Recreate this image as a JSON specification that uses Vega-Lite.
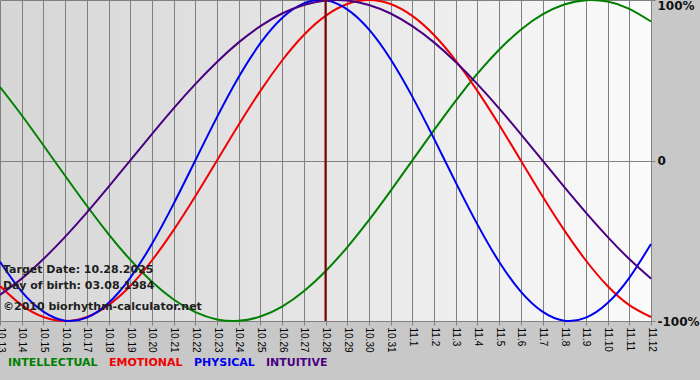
{
  "$schema": "https://vega.github.io/schema/vega-lite/v6.json",
  "width": 651,
  "height": 321,
  "autosize": {"type": "none"},
  "padding": {"left": 0, "top": 0, "right": 49, "bottom": 59},
  "background": "#c8c8c8",
  "view": {"stroke": null, "fill": {"gradient": "linear", "x1": 0, "x2": 1, "y1": 0, "y2": 0, "stops": [{"offset": 0, "color": "#d6d6d6"}, {"offset": 0.5, "color": "#e6e6e6"}, {"offset": 1, "color": "#fbfbfb"}]}},
  "config": {
    "axisX": {"grid": true, "gridColor": "#808080", "gridOpacity": 1, "domainColor": "#808080", "tickColor": "#808080", "tickSize": 4, "labelAngle": 90, "labelFont": "Liberation Sans", "labelFontSize": 10, "labelColor": "#000000", "labelPadding": 2, "labelOverlap": false, "labelBound": false, "labelFlush": false},
    "axisY": {"grid": true, "gridColor": "#808080", "gridOpacity": 1, "domain": false, "tickColor": "#808080", "tickSize": 4, "labelFont": "DejaVu Sans", "labelFontSize": 12, "labelFontWeight": "bold", "labelColor": "#111111", "labelPadding": 2, "labelOverlap": false, "labelFlush": false}
  },
  "layer": [
    {
      "data": {"values": [
        {"d": "10.13", "INTELLECTUAL": 45.8, "EMOTIONAL": -78.2, "PHYSICAL": -63.1, "INTUITIVE": -83.7},
        {"d": "10.14", "INTELLECTUAL": 28.2, "EMOTIONAL": -90.1, "PHYSICAL": -81.7, "INTUITIVE": -73.6},
        {"d": "10.15", "INTELLECTUAL": 9.5, "EMOTIONAL": -97.5, "PHYSICAL": -94.2, "INTUITIVE": -61.4},
        {"d": "10.16", "INTELLECTUAL": -9.5, "EMOTIONAL": -100, "PHYSICAL": -99.8, "INTUITIVE": -47.6},
        {"d": "10.17", "INTELLECTUAL": -28.2, "EMOTIONAL": -97.5, "PHYSICAL": -97.9, "INTUITIVE": -32.5},
        {"d": "10.18", "INTELLECTUAL": -45.8, "EMOTIONAL": -90.1, "PHYSICAL": -88.8, "INTUITIVE": -16.5},
        {"d": "10.19", "INTELLECTUAL": -61.8, "EMOTIONAL": -78.2, "PHYSICAL": -73.1, "INTUITIVE": 0},
        {"d": "10.20", "INTELLECTUAL": -75.6, "EMOTIONAL": -62.3, "PHYSICAL": -52.0, "INTUITIVE": 16.5},
        {"d": "10.21", "INTELLECTUAL": -86.6, "EMOTIONAL": -43.4, "PHYSICAL": -27.0, "INTUITIVE": 32.5},
        {"d": "10.22", "INTELLECTUAL": -94.5, "EMOTIONAL": -22.3, "PHYSICAL": 0, "INTUITIVE": 47.6},
        {"d": "10.23", "INTELLECTUAL": -99.0, "EMOTIONAL": 0, "PHYSICAL": 27.0, "INTUITIVE": 61.4},
        {"d": "10.24", "INTELLECTUAL": -99.9, "EMOTIONAL": 22.3, "PHYSICAL": 52.0, "INTUITIVE": 73.6},
        {"d": "10.25", "INTELLECTUAL": -97.2, "EMOTIONAL": 43.4, "PHYSICAL": 73.1, "INTUITIVE": 83.7},
        {"d": "10.26", "INTELLECTUAL": -91.0, "EMOTIONAL": 62.3, "PHYSICAL": 88.8, "INTUITIVE": 91.6},
        {"d": "10.27", "INTELLECTUAL": -81.5, "EMOTIONAL": 78.2, "PHYSICAL": 97.9, "INTUITIVE": 96.9},
        {"d": "10.28", "INTELLECTUAL": -69.0, "EMOTIONAL": 90.1, "PHYSICAL": 99.8, "INTUITIVE": 99.7},
        {"d": "10.29", "INTELLECTUAL": -54.1, "EMOTIONAL": 97.5, "PHYSICAL": 94.2, "INTUITIVE": 99.7},
        {"d": "10.30", "INTELLECTUAL": -37.2, "EMOTIONAL": 100, "PHYSICAL": 81.7, "INTUITIVE": 96.9},
        {"d": "10.31", "INTELLECTUAL": -18.9, "EMOTIONAL": 97.5, "PHYSICAL": 63.1, "INTUITIVE": 91.6},
        {"d": "11.1", "INTELLECTUAL": 0, "EMOTIONAL": 90.1, "PHYSICAL": 39.8, "INTUITIVE": 83.7},
        {"d": "11.2", "INTELLECTUAL": 18.9, "EMOTIONAL": 78.2, "PHYSICAL": 13.6, "INTUITIVE": 73.6},
        {"d": "11.3", "INTELLECTUAL": 37.2, "EMOTIONAL": 62.3, "PHYSICAL": -13.6, "INTUITIVE": 61.4},
        {"d": "11.4", "INTELLECTUAL": 54.1, "EMOTIONAL": 43.4, "PHYSICAL": -39.8, "INTUITIVE": 47.6},
        {"d": "11.5", "INTELLECTUAL": 69.0, "EMOTIONAL": 22.3, "PHYSICAL": -63.1, "INTUITIVE": 32.5},
        {"d": "11.6", "INTELLECTUAL": 81.5, "EMOTIONAL": 0, "PHYSICAL": -81.7, "INTUITIVE": 16.5},
        {"d": "11.7", "INTELLECTUAL": 91.0, "EMOTIONAL": -22.3, "PHYSICAL": -94.2, "INTUITIVE": 0},
        {"d": "11.8", "INTELLECTUAL": 97.2, "EMOTIONAL": -43.4, "PHYSICAL": -99.8, "INTUITIVE": -16.5},
        {"d": "11.9", "INTELLECTUAL": 99.9, "EMOTIONAL": -62.3, "PHYSICAL": -97.9, "INTUITIVE": -32.5},
        {"d": "11.10", "INTELLECTUAL": 99.0, "EMOTIONAL": -78.2, "PHYSICAL": -88.8, "INTUITIVE": -47.6},
        {"d": "11.11", "INTELLECTUAL": 94.5, "EMOTIONAL": -90.1, "PHYSICAL": -73.1, "INTUITIVE": -61.4},
        {"d": "11.12", "INTELLECTUAL": 86.6, "EMOTIONAL": -97.5, "PHYSICAL": -52.0, "INTUITIVE": -73.6}
      ]},
      "transform": [{"fold": ["INTELLECTUAL", "EMOTIONAL", "PHYSICAL", "INTUITIVE"], "as": ["s", "v"]}],
      "mark": {"type": "line", "strokeWidth": 2, "interpolate": "natural"},
      "encoding": {
        "x": {"field": "d", "type": "ordinal", "title": null,
          "scale": {"type": "point", "padding": 0, "domain": ["10.13","10.14","10.15","10.16","10.17","10.18","10.19","10.20","10.21","10.22","10.23","10.24","10.25","10.26","10.27","10.28","10.29","10.30","10.31","11.1","11.2","11.3","11.4","11.5","11.6","11.7","11.8","11.9","11.10","11.11","11.12"]}},
        "y": {"field": "v", "type": "quantitative", "title": null,
          "scale": {"domain": [-100, 100], "nice": false, "zero": false},
          "axis": {"orient": "right", "values": [-100, 0, 100], "labelExpr": "datum.value == 0 ? '0' : datum.value + '%'", "labelAlign": "left",
            "labelBaseline": {"condition": {"test": "datum.value == 100", "value": "top"}, "value": "middle"}}},
        "color": {"field": "s", "type": "nominal", "sort": null,
          "scale": {"domain": ["INTELLECTUAL", "EMOTIONAL", "PHYSICAL", "INTUITIVE"], "range": ["#008000", "#f00000", "#0000f0", "#4b0082"]},
          "legend": {"orient": "none", "legendX": -3, "legendY": 357, "direction": "horizontal", "title": null, "symbolSize": 1, "symbolStrokeWidth": 0, "symbolOpacity": 0, "labelOffset": 0, "columnPadding": -3, "labelFont": "DejaVu Sans", "labelFontSize": 11, "labelFontWeight": "bold",
            "encode": {"labels": {"update": {"fill": {"scale": "color", "field": "value"}}}}}}
      }
    },
    {
      "data": {"values": [{"d": "10.28"}]},
      "mark": {"type": "rule", "color": "#800000", "strokeWidth": 2},
      "encoding": {"x": {"field": "d", "type": "ordinal", "title": null}}
    },
    {
      "data": {"values": [
        {"d": "10.13", "v": -68.2, "t": "Target Date: 10.28.2025"},
        {"d": "10.13", "v": -78.3, "t": "Day of birth: 03.08.1984"},
        {"d": "10.13", "v": -91.3, "t": "©2010 biorhythm-calculator.net"}
      ]},
      "mark": {"type": "text", "align": "left", "baseline": "middle", "dx": 3, "font": "DejaVu Sans", "fontSize": 11, "fontWeight": "bold", "color": "#1e1e1e"},
      "encoding": {
        "x": {"field": "d", "type": "ordinal", "title": null},
        "y": {"field": "v", "type": "quantitative", "title": null},
        "text": {"field": "t"}
      }
    }
  ]
}
